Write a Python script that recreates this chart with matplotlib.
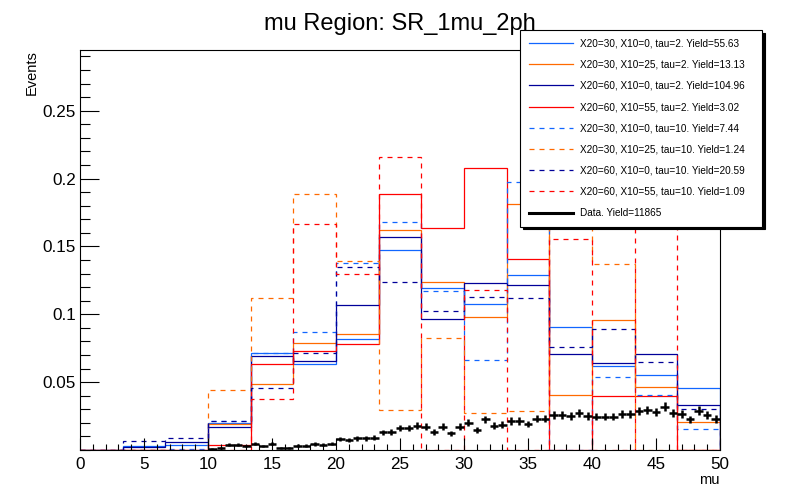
import numpy as np
import matplotlib
matplotlib.use("Agg")
import matplotlib.pyplot as plt
from matplotlib.lines import Line2D

plt.rcParams['font.family'] = ['Liberation Sans', 'DejaVu Sans']

# signal shapes: 15 bins on mu in [0, 50], each normalised to unit area
n_sig_bins = 15
sig_lo, sig_hi = 0, 50

x20_30_x10_0_tau2 = [0, 0.0027, 0.004, 0.020, 0.0713, 0.0634, 0.0818, 0.147, 0.1193, 0.1074, 0.1286, 0.0905, 0.0622, 0.0554, 0.0459]
x20_30_x10_25_tau2 = [0, 0, 0, 0.0188, 0.0486, 0.0788, 0.0854, 0.1623, 0.1235, 0.0979, 0.1815, 0.0405, 0.0959, 0.0467, 0.0204]
x20_60_x10_0_tau2 = [0, 0.0025, 0.0056, 0.0173, 0.069, 0.0657, 0.1067, 0.1572, 0.0964, 0.1227, 0.1213, 0.0708, 0.0642, 0.0708, 0.0332]
x20_60_x10_55_tau2 = [0, 0, 0, 0.004, 0.0634, 0.073, 0.0783, 0.1886, 0.1638, 0.2076, 0.141, 0, 0.0400, 0.0400, 0]
x20_30_x10_0_tau10 = [0, 0, 0.001, 0.021, 0.0713, 0.0869, 0.1381, 0.168, 0.1169, 0.0664, 0.1974, 0, 0.0536, 0.0405, 0.0153]
x20_30_x10_25_tau10 = [0, 0, 0, 0.0442, 0.1118, 0.1886, 0.1396, 0.0293, 0.0825, 0.0276, 0.029, 0.21, 0.1374, 0, 0]
x20_60_x10_0_tau10 = [0, 0.0064, 0.0085, 0.021, 0.0457, 0.0717, 0.1345, 0.124, 0.1023, 0.1127, 0.1118, 0.0759, 0.0893, 0.0649, 0.0302]
x20_60_x10_55_tau10 = [0, 0, 0, 0, 0.0378, 0.1667, 0.1294, 0.216, 0, 0.1176, 0, 0.1557, 0, 0.177, 0]

sig_labels = [
    "X20=30, X10=0, tau=2. Yield=55.63",
    "X20=30, X10=25, tau=2. Yield=13.13",
    "X20=60, X10=0, tau=2. Yield=104.96",
    "X20=60, X10=55, tau=2. Yield=3.02",
    "X20=30, X10=0, tau=10. Yield=7.44",
    "X20=30, X10=25, tau=10. Yield=1.24",
    "X20=60, X10=0, tau=10. Yield=20.59",
    "X20=60, X10=55, tau=10. Yield=1.09",
]
data_label = "Data. Yield=11865"
data_entries = 3000  # effective (unweighted) entries, sets the error bar size

# data: 75 bins on [0, 50], first filled bin is index 15
n_data_bins = 75
data_first_bin = 15
data_vals = [0.0007, 0.0017, 0.0039, 0.0039, 0.0029, 0.0047, 0.0029, 0.0047, 0.0015, 0.0015,
             0.0032, 0.0032, 0.0044, 0.0039, 0.0047, 0.0079, 0.0071, 0.0086, 0.0086, 0.0091,
             0.0130, 0.0135, 0.0160, 0.0160, 0.0179, 0.0172, 0.0135, 0.0172, 0.0123, 0.0172,
             0.0199, 0.0150, 0.0226, 0.0179, 0.0187, 0.0214, 0.0214, 0.0192, 0.0231, 0.0231,
             0.0258, 0.0258, 0.0250, 0.0275, 0.0250, 0.0246, 0.0246, 0.0246, 0.0265, 0.0265,
             0.0287, 0.0295, 0.0280, 0.0319, 0.0270, 0.0265, 0.0226, 0.0290, 0.0258, 0.0228]

y_ticks = [0.05, 0.1, 0.15, 0.2, 0.25]
y_ticklabels = ["0.05", "0.1", "0.15", "0.2", "0.25"]
x_ticks = [0, 5, 10, 15, 20, 25, 30, 35, 40, 45, 50]

lightblue = '#1166ff'
orange = '#ff6a00'
navy = '#000099'
red = '#ff0000'
colors = [lightblue, orange, navy, red] * 2
dashed = (0, (4, 4))
styles = ['-'] * 4 + [dashed] * 4

fig = plt.figure(figsize=(8, 5), dpi=100)
ax = fig.add_axes([0.1, 0.1, 0.8, 0.8])

edges = np.linspace(sig_lo, sig_hi, n_sig_bins + 1)
series = [x20_30_x10_0_tau2, x20_30_x10_25_tau2, x20_60_x10_0_tau2, x20_60_x10_55_tau2,
          x20_30_x10_0_tau10, x20_30_x10_25_tau10, x20_60_x10_0_tau10, x20_60_x10_55_tau10]
for vals, c, ls in zip(series, colors, styles):
    ax.stairs(vals, edges, color=c, linestyle=ls, linewidth=0.9)

# data points with stat errors
d_edges = np.linspace(sig_lo, sig_hi, n_data_bins + 1)
d_centers = 0.5 * (d_edges[:-1] + d_edges[1:])[data_first_bin:]
d_vals = np.array(data_vals)
d_err = np.sqrt(d_vals / data_entries)
half_w = 0.5 * (d_edges[1] - d_edges[0])
ax.errorbar(d_centers, d_vals, xerr=half_w, yerr=d_err, fmt='none',
            ecolor='black', elinewidth=1.8, capsize=0, zorder=5)

ax.set_xlim(0, 50)
ax.set_ylim(0, 0.2947)
ax.set_xticks(x_ticks)
ax.set_xticks(np.arange(0, 51, 1), minor=True)
ax.set_yticks(y_ticks)
ax.set_yticklabels(y_ticklabels)
ax.set_yticks(np.arange(0, 0.295, 0.01), minor=True)
ax.tick_params(axis='x', which='major', direction='in', length=8.6, width=0.8,
               labelsize=12.3, pad=5, top=False)
ax.tick_params(axis='x', which='minor', direction='in', length=4.3, width=0.8, top=False)
ax.tick_params(axis='y', which='major', direction='in', length=13.8, width=0.8,
               labelsize=12.3, pad=3, right=False)
ax.tick_params(axis='y', which='minor', direction='in', length=6.9, width=0.8, right=False)
for sp in ax.spines.values():
    sp.set_linewidth(0.8)

fig.text(0.5, 0.94, "mu Region: SR_1mu_2ph", ha='center', va='baseline', fontsize=17)
fig.text(0.9, 0.04, "mu", ha='right', va='center', fontsize=10.5)
fig.text(0.04, 0.9, "Events", ha='center', va='top', rotation=90, fontsize=10.5)

handles = [Line2D([], [], color=c, linestyle=ls, linewidth=0.9) for c, ls in zip(colors, styles)]
handles.append(Line2D([], [], color='black', linewidth=2.2))
leg = ax.legend(handles, sig_labels + [data_label], loc='upper left',
                bbox_to_anchor=(0.65, 0.5, 0.3025, 0.44), bbox_transform=fig.transFigure,
                mode='expand', fontsize=7.2, handlelength=4.4, handletextpad=0.8,
                labelspacing=1.12, borderpad=0.85, borderaxespad=0, fancybox=False,
                edgecolor='black', framealpha=1, shadow={'color': 'black', 'alpha': 1})
leg.get_frame().set_linewidth(0.8)
leg.set_zorder(10)

fig.savefig("out.png", dpi=100)
